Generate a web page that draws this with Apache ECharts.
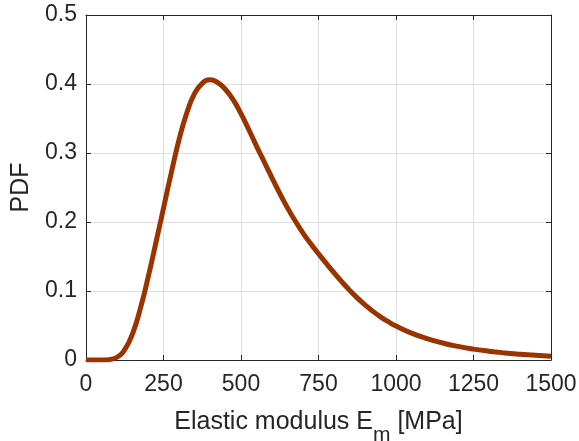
<!DOCTYPE html>
<html>
<head>
<meta charset="utf-8">
<script src="https://cdn.jsdelivr.net/npm/echarts@6/dist/echarts.min.js"></script>
<style>
  html, body { margin: 0; padding: 0; background: #fff; }
  #main { width: 579px; height: 441px; }
</style>
</head>
<body>
<div id="main"></div>
<script>
// elastic modulus PDF
var modulus = [
  0, 25, 50, 75, 100, 125, 150, 175, 200, 225, 250, 275, 300, 325, 350, 375,
  400, 425, 450, 475, 500, 525, 550, 575, 600, 625, 650, 675, 700, 725, 750,
  775, 800, 825, 850, 875, 900, 925, 950, 975, 1000, 1050, 1100, 1150, 1200,
  1250, 1300, 1350, 1400, 1450, 1500
];
var pdf = [
  0, 0, 0, 0.0005, 0.004, 0.015, 0.038, 0.074, 0.119, 0.169, 0.22, 0.271,
  0.319, 0.358, 0.386, 0.401, 0.406, 0.402, 0.392, 0.377, 0.357, 0.334, 0.31,
  0.287, 0.264, 0.2415, 0.2205, 0.2015, 0.184, 0.1685, 0.154, 0.14, 0.1265,
  0.1135, 0.1013, 0.09, 0.0798, 0.0707, 0.0626, 0.0555, 0.0492, 0.039, 0.031,
  0.0247, 0.0197, 0.0158, 0.0127, 0.0103, 0.0084, 0.0068, 0.0055
];
var xTicks = [0, 250, 500, 750, 1000, 1250, 1500];
var yTicks = [0, 0.1, 0.2, 0.3, 0.4, 0.5];

var font = "'Liberation Sans', Arial, Helvetica, sans-serif";
var ink = "#262626";

document.addEventListener("DOMContentLoaded", function () {
  var myChart = echarts.init(document.getElementById("main"));

  var points = modulus.map(function (x, i) {
    return [x, pdf[i]];
  });

  var boxAxis = {
    axisLine: { show: true, onZero: false, lineStyle: { color: ink, width: 1 } },
    axisTick: { show: true, inside: true, length: 5, lineStyle: { color: ink } },
    axisLabel: { show: false },
    splitLine: { show: false }
  };

  var option = {
    animation: false,
    grid: { left: 86, top: 15, width: 465, height: 345, outerBoundsMode: "none" },
    xAxis: [
      {
        type: "value",
        min: xTicks[0],
        max: xTicks[xTicks.length - 1],
        interval: 250,
        position: "bottom",
        name: "Elastic modulus E{sub|m} [MPa]",
        nameLocation: "middle",
        nameGap: 39,
        nameTextStyle: {
          color: ink,
          fontFamily: font,
          fontSize: 25,
          rich: {
            sub: { fontSize: 21, fontFamily: font, color: ink, padding: [26, 0, 0, 0] }
          }
        },
        axisLine: { onZero: false, lineStyle: { color: ink, width: 1 } },
        axisTick: { inside: true, length: 5, lineStyle: { color: ink } },
        axisLabel: {
          color: ink, fontFamily: font, fontSize: 23, margin: 13,
          formatter: function (v) { return String(v); }
        },
        splitLine: { show: true, lineStyle: { color: "#dfdfdf", width: 1 } }
      },
      Object.assign({
        type: "value",
        min: xTicks[0],
        max: xTicks[xTicks.length - 1],
        interval: 250,
        position: "top"
      }, boxAxis)
    ],
    yAxis: [
      {
        type: "value",
        min: yTicks[0],
        max: yTicks[yTicks.length - 1],
        interval: 0.1,
        position: "left",
        name: "PDF",
        nameLocation: "middle",
        nameGap: 52,
        nameTextStyle: { color: ink, fontFamily: font, fontSize: 25 },
        axisLine: { show: true, onZero: false, lineStyle: { color: ink, width: 1 } },
        axisTick: { show: true, inside: true, length: 5, lineStyle: { color: ink } },
        axisLabel: { color: ink, fontFamily: font, fontSize: 23, margin: 9 },
        splitLine: { show: true, lineStyle: { color: "#dfdfdf", width: 1 } }
      },
      Object.assign({
        type: "value",
        min: yTicks[0],
        max: yTicks[yTicks.length - 1],
        interval: 0.1,
        position: "right"
      }, boxAxis)
    ],
    series: [
      {
        type: "line",
        data: points,
        smooth: true,
        showSymbol: false,
        lineStyle: { color: "#993300", width: 5 },
        clip: true
      }
    ]
  };

  myChart.setOption(option);
});
</script>
</body>
</html>
